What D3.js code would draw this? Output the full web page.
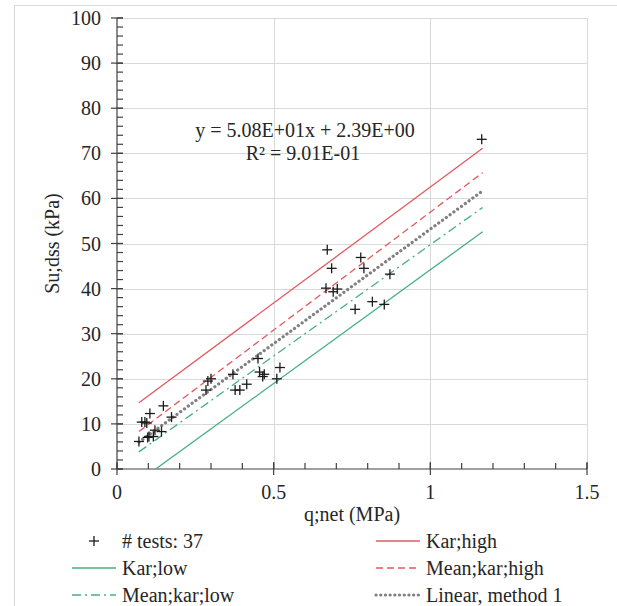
<!DOCTYPE html>
<html><head><meta charset="utf-8"><script src="https://cdn.jsdelivr.net/npm/d3@7"></script></head>
<body style="margin:0">
<svg id="c" width="617" height="606"></svg>
<script>
// ---------- data ----------
const qnet = [0.070, 0.079, 0.089, 0.095, 0.105, 0.102, 0.116, 0.121, 0.142, 0.148, 0.174,
              0.284, 0.290, 0.300, 0.370, 0.377, 0.392, 0.414, 0.450, 0.455, 0.465, 0.470, 0.510, 0.520,
              0.667, 0.671, 0.685, 0.690, 0.703, 0.760, 0.778, 0.788, 0.815, 0.853, 0.871, 1.164, 0.098];
const su   = [6.1, 10.4, 10.4, 10.2, 12.3, 7.2, 7.2, 8.6, 8.3, 14.0, 11.5,
              17.5, 19.5, 20.0, 21.0, 17.5, 17.5, 18.8, 24.5, 21.5, 20.5, 21.0, 20.0, 22.5,
              40.1, 48.6, 44.5, 39.3, 39.9, 35.4, 46.9, 44.5, 37.1, 36.5, 43.2, 73.1, 7.0];

const lineX       = [0.07, 1.167];
const karHigh     = [14.7, 71.1];
const meanKarHigh = [8.3, 65.7];
const linearFit   = [5.95, 61.67];
const meanKarLow  = [3.8, 58.0];
const karLow      = [-2.7, 52.6];

const xMajorTicks = [0, 0.5, 1, 1.5];
const xTickLabels = ["0", "0.5", "1", "1.5"];
const yMajorTicks = [0, 10, 20, 30, 40, 50, 60, 70, 80, 90, 100];
const yTickLabels = ["0", "10", "20", "30", "40", "50", "60", "70", "80", "90", "100"];
const xMinorTicks = d3.range(0, 1.5001, 0.1);
const yMinorTicks = d3.range(0, 100.001, 2);

const equationLines = ["y = 5.08E+01x + 2.39E+00", "R² = 9.01E-01"];
const xTitle = "q;net (MPa)";
const yTitle = "Su;dss (kPa)";
const legendLabels = ["# tests: 37", "Kar;high", "Kar;low", "Mean;kar;high", "Mean;kar;low", "Linear, method 1"];

// ---------- drawing ----------
const FONT = "Times New Roman";
const TXT = "#262626";
const svg = d3.select("#c").style("font-family", FONT);
const x = d3.scaleLinear().domain([0, 1.5]).range([117, 587]);
const y = d3.scaleLinear().domain([0, 100]).range([469, 18]);

const RED = "#e35a60", GREEN = "#45b07f", GRAY = "#808080", AXIS = "#404040", GRID = "#d9d9d9";

function txt(sel, size) {
  return sel.style("font-family", () => FONT).attr("font-size", size).attr("fill", TXT);
}

// outer chart border
svg.append("rect").attr("x", 14.5).attr("y", 5.5).attr("width", 610).attr("height", 650)
  .attr("fill", "none").attr("stroke", "#d9d9d9").attr("stroke-width", 1);

// gridlines
svg.append("g").selectAll("line").data(yMajorTicks.filter(d => d > 0)).join("line")
  .attr("x1", x(0)).attr("x2", x(1.5)).attr("y1", d => Math.round(y(d)) + 0.5).attr("y2", d => Math.round(y(d)) + 0.5)
  .attr("stroke", GRID).attr("stroke-width", 1);
svg.append("g").selectAll("line").data(xMajorTicks.filter(d => d > 0)).join("line")
  .attr("y1", y(0)).attr("y2", y(100)).attr("x1", d => Math.round(x(d)) + 0.5).attr("x2", d => Math.round(x(d)) + 0.5)
  .attr("stroke", GRID).attr("stroke-width", 1);

// axes
const ax = svg.append("g").attr("stroke", AXIS).attr("stroke-width", 1.2);
ax.append("line").attr("x1", x(0)).attr("x2", x(1.5)).attr("y1", y(0)).attr("y2", y(0));
ax.append("line").attr("x1", x(0)).attr("x2", x(0)).attr("y1", y(0)).attr("y2", y(100));
ax.selectAll(".xmin").data(xMinorTicks).join("line").attr("class", "xmin")
  .attr("x1", d => x(d)).attr("x2", d => x(d)).attr("y1", y(0)).attr("y2", y(0) - 6);
ax.selectAll(".xmaj").data(xMajorTicks).join("line").attr("class", "xmaj")
  .attr("x1", d => x(d)).attr("x2", d => x(d)).attr("y1", y(0) - 7).attr("y2", y(0) + 6);
ax.selectAll(".ymin").data(yMinorTicks).join("line").attr("class", "ymin")
  .attr("y1", d => y(d)).attr("y2", d => y(d)).attr("x1", x(0)).attr("x2", x(0) + 6);
ax.selectAll(".ymaj").data(yMajorTicks).join("line").attr("class", "ymaj")
  .attr("y1", d => y(d)).attr("y2", d => y(d)).attr("x1", x(0) - 6).attr("x2", x(0) + 6);

// tick labels
txt(svg.selectAll("text.xt").data(xMajorTicks).join("text").attr("class", "xt")
  .attr("x", d => x(d)).attr("y", 499).attr("text-anchor", "middle"), 20)
  .text((d, i) => xTickLabels[i]);
txt(svg.selectAll("text.yt").data(yMajorTicks).join("text").attr("class", "yt")
  .attr("x", 101).attr("y", d => y(d) + 7).attr("text-anchor", "end"), 20)
  .text((d, i) => yTickLabels[i]);

// axis titles
txt(svg.append("text").attr("x", (x(0) + x(1.5)) / 2).attr("y", 521).attr("text-anchor", "middle"), 20)
  .text(xTitle);
txt(svg.append("text").attr("transform", `translate(59,${(y(0) + y(100)) / 2}) rotate(-90)`)
  .attr("text-anchor", "middle"), 20).text(yTitle);

// clip for lines
svg.append("defs").append("clipPath").attr("id", "plot")
  .append("rect").attr("x", x(0)).attr("y", y(100)).attr("width", x(1.5) - x(0)).attr("height", y(0) - y(100));

const lineGen = d3.line().x(d => x(d[0])).y(d => y(d[1]));
const series = [
  { vals: karLow,      color: GREEN, dash: null,        w: 1.3 },
  { vals: meanKarLow,  color: GREEN, dash: "9,4,2,4",   w: 1.3 },
  { vals: linearFit,   color: GRAY,  dash: "0.1,4.6",   w: 3.2, cap: "round" },
  { vals: meanKarHigh, color: RED,   dash: "7,4",       w: 1.3 },
  { vals: karHigh,     color: RED,   dash: null,        w: 1.3 }
];
const lg = svg.append("g").attr("clip-path", "url(#plot)");
series.forEach(s => {
  lg.append("path").datum(lineX.map((v, i) => [v, s.vals[i]]))
    .attr("d", lineGen).attr("fill", "none").attr("stroke", s.color)
    .attr("stroke-width", s.w).attr("stroke-dasharray", s.dash)
    .attr("stroke-linecap", s.cap || "butt");
});

// points
const plus = (g, cx, cy, r) => {
  g.append("line").attr("x1", cx - r).attr("x2", cx + r).attr("y1", cy).attr("y2", cy);
  g.append("line").attr("x1", cx).attr("x2", cx).attr("y1", cy - r).attr("y2", cy + r);
};
const pg = svg.append("g").attr("stroke", "#1a1a1a").attr("stroke-width", 1.3);
qnet.forEach((q, i) => plus(pg, x(q), y(su[i]), 5));

// equation
txt(svg.selectAll("text.eq").data(equationLines).join("text").attr("class", "eq")
  .attr("x", (d, i) => i === 0 ? 305 : 303).attr("y", (d, i) => 137 + i * 23)
  .attr("text-anchor", "middle"), 20).text(d => d);

// legend
const legendItems = [
  { label: legendLabels[0], type: "plus",  col: 0, row: 0 },
  { label: legendLabels[1], type: "line",  col: 1, row: 0, color: RED,   dash: null },
  { label: legendLabels[2], type: "line",  col: 0, row: 1, color: GREEN, dash: null },
  { label: legendLabels[3], type: "line",  col: 1, row: 1, color: RED,   dash: "7,4" },
  { label: legendLabels[4], type: "line",  col: 0, row: 2, color: GREEN, dash: "9,4,2,4" },
  { label: legendLabels[5], type: "line",  col: 1, row: 2, color: GRAY,  dash: "0.1,4.6", w: 3.2, cap: "round" }
];
const colX = [72, 376], rowY = [541, 568, 595];
legendItems.forEach(it => {
  const lx = colX[it.col], ly = rowY[it.row];
  if (it.type === "plus") {
    const g = svg.append("g").attr("stroke", "#1a1a1a").attr("stroke-width", 1.3);
    plus(g, lx + 22, ly, 5);
  } else {
    svg.append("line").attr("x1", lx).attr("x2", lx + 44).attr("y1", ly).attr("y2", ly)
      .attr("stroke", it.color).attr("stroke-width", it.w || 1.3)
      .attr("stroke-dasharray", it.dash).attr("stroke-linecap", it.cap || "butt");
  }
});
txt(svg.selectAll("text.lg").data(legendItems).join("text").attr("class", "lg")
  .attr("x", d => colX[d.col] + 50).attr("y", d => rowY[d.row] + 7), 20).text(d => d.label);
</script>
</body></html>
